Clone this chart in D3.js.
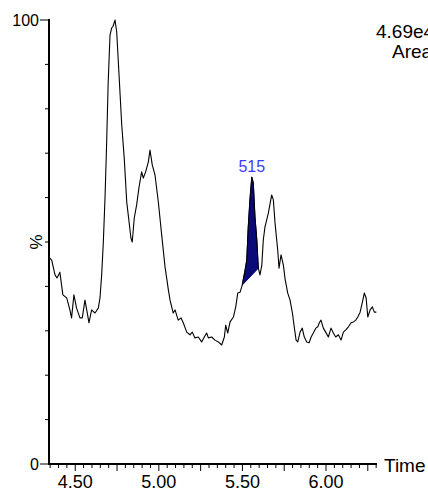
<!DOCTYPE html>
<html>
<head>
<meta charset="utf-8">
<script src="https://cdn.jsdelivr.net/npm/d3@7"></script>
<style>
    body { margin: 0; background: #fff; }
    svg { display: block; font-family: "Liberation Sans", Arial, sans-serif; }
</style>
</head>
<body>
<svg width="428" height="490"></svg>
<script>
// chromatogram trace (time in min, intensity in %)
var times = [4.346, 4.359, 4.379, 4.391, 4.408, 4.426, 4.449, 4.468, 4.478, 4.492,
    4.508, 4.528, 4.542, 4.558, 4.574, 4.582, 4.598, 4.618, 4.638, 4.648,
    4.658, 4.668, 4.678, 4.688, 4.697, 4.708, 4.718, 4.726, 4.738, 4.748,
    4.762, 4.778, 4.793, 4.808, 4.817, 4.833, 4.841, 4.853, 4.867, 4.881,
    4.897, 4.907, 4.921, 4.937, 4.947, 4.961, 4.977, 4.997, 5.017, 5.037,
    5.057, 5.067, 5.086, 5.097, 5.116, 5.133, 5.146, 5.167, 5.186, 5.200,
    5.216, 5.236, 5.256, 5.272, 5.286, 5.296, 5.316, 5.336, 5.356, 5.376,
    5.392, 5.400, 5.412, 5.426, 5.446, 5.460, 5.472, 5.486, 5.499, 5.516,
    5.526, 5.535, 5.545, 5.556, 5.565, 5.575, 5.586, 5.595, 5.605, 5.616,
    5.625, 5.635, 5.655, 5.675, 5.685, 5.695, 5.711, 5.719, 5.731, 5.745,
    5.755, 5.771, 5.785, 5.799, 5.811, 5.821, 5.831, 5.845, 5.858, 5.870,
    5.885, 5.899, 5.911, 5.924, 5.939, 5.951, 5.960, 5.970, 5.984, 5.998,
    6.014, 6.030, 6.044, 6.058, 6.074, 6.090, 6.104, 6.118, 6.134, 6.150,
    6.164, 6.178, 6.190, 6.204, 6.218, 6.229, 6.240, 6.250, 6.264, 6.277,
    6.289, 6.301];
var intensity = [46.4, 45.9, 42.6, 41.9, 43.2, 38.1, 37.4, 34.7, 32.9, 38.1,
    35.1, 32.9, 32.9, 36.9, 33.6, 31.8, 34.7, 34.0, 35.1, 37.4,
    42.6, 50.0, 59.9, 72.5, 86.0, 96.6, 98.2, 98.6, 100.0, 97.3,
    87.6, 76.4, 68.9, 59.0, 56.1, 50.9, 50.0, 55.4, 58.3, 62.2,
    65.8, 64.4, 65.8, 68.0, 70.7, 67.3, 65.1, 59.0, 51.6, 44.4,
    39.2, 36.9, 34.0, 34.7, 32.4, 32.9, 31.8, 29.7, 29.1, 29.7,
    28.4, 28.6, 27.5, 28.6, 29.5, 28.4, 28.6, 27.9, 27.5, 26.8,
    28.6, 31.3, 29.5, 32.0, 33.1, 35.4, 38.5, 38.7, 40.3, 43.7,
    45.9, 53.4, 59.5, 64.6, 63.3, 55.6, 50.5, 44.1, 42.6, 44.8,
    50.5, 53.4, 56.5, 60.6, 59.5, 54.3, 48.2, 44.1, 47.1, 44.8,
    41.7, 38.5, 36.9, 34.0, 30.6, 27.9, 27.5, 29.7, 30.6, 28.6,
    27.5, 27.3, 28.6, 29.5, 30.6, 30.9, 31.8, 32.4, 30.6, 29.7,
    28.6, 30.6, 29.5, 28.6, 29.1, 27.9, 29.7, 30.2, 30.9, 31.8,
    32.0, 32.4, 33.1, 34.2, 36.5, 38.5, 37.4, 33.1, 34.7, 35.4,
    34.2, 34.2];

// integrated peak
var peakStart = 5.499, peakEnd = 5.595, peakApex = 5.556, peakLabel = "515";

var xTickLabels = ["4.50", "5.00", "5.50", "6.00"];
var yTickLabels = ["0", "100"];
var headerLines = ["4.69e4", "Area"];

var svg = d3.select("svg");

var x = d3.scaleLinear().domain([4.343, 6.305]).range([49, 377]);
var y = d3.scaleLinear().domain([0, 100]).range([464, 20]);

var data = times.map(function(t, i) { return { t: t, v: intensity[i] }; });

var line = d3.line()
    .x(function(d) { return x(d.t); })
    .y(function(d) { return y(d.v); });

// shaded peak, closed by a straight baseline between its ends
var peak = data.filter(function(d) { return d.t >= peakStart && d.t <= peakEnd; });
svg.append("path")
    .attr("d", line(peak) + "Z")
    .attr("fill", "#0a0a78")
    .attr("stroke", "#0a0a78")
    .attr("stroke-width", 1);

svg.append("path")
    .attr("d", line(data))
    .attr("fill", "none")
    .attr("stroke", "#000")
    .attr("stroke-width", 1.1)
    .attr("stroke-linejoin", "round");

var apex = data.filter(function(d) { return d.t === peakApex; })[0];
svg.append("text")
    .attr("x", x(apex.t))
    .attr("y", y(apex.v) - 5)
    .attr("text-anchor", "middle")
    .attr("font-size", 16)
    .attr("fill", "#3b3bff")
    .text(peakLabel);

// x axis: minor ticks every 0.05, longer every 0.25, labels every 0.5
var xAxis = svg.append("g");
xAxis.append("line")
    .attr("x1", 48).attr("x2", 377)
    .attr("y1", 464).attr("y2", 464)
    .attr("stroke", "#000").attr("stroke-width", 2);
d3.range(87, 127).map(function(i) { return i * 0.05; }).forEach(function(t) {
    var major = Math.abs(t / 0.25 - Math.round(t / 0.25)) < 1e-6;
    xAxis.append("line")
        .attr("x1", x(t)).attr("x2", x(t))
        .attr("y1", 464).attr("y2", major ? 471 : 468)
        .attr("stroke", "#000").attr("stroke-width", 1);
});
xTickLabels.forEach(function(s) {
    xAxis.append("text")
        .attr("x", x(+s))
        .attr("y", 488)
        .attr("text-anchor", "middle")
        .attr("font-size", 18)
        .text(s);
});
xAxis.append("text")
    .attr("x", 384)
    .attr("y", 472)
    .attr("font-size", 19)
    .text("Time");

// y axis: minor ticks every 10, labels at 0 and 100
var yAxis = svg.append("g");
yAxis.append("line")
    .attr("x1", 49).attr("x2", 49)
    .attr("y1", 19).attr("y2", 465)
    .attr("stroke", "#000").attr("stroke-width", 2);
d3.range(0, 101, 10).forEach(function(v) {
    var labelled = v === 0 || v === 100;
    yAxis.append("line")
        .attr("x1", labelled ? 40 : 45).attr("x2", 49)
        .attr("y1", y(v)).attr("y2", y(v))
        .attr("stroke", "#000").attr("stroke-width", 1);
});
yTickLabels.forEach(function(s) {
    yAxis.append("text")
        .attr("x", 39)
        .attr("y", y(+s) + 6)
        .attr("text-anchor", "end")
        .attr("font-size", 16)
        .text(s);
});
yAxis.append("text")
    .attr("transform", "translate(42," + y(50) + ") rotate(-90)")
    .attr("text-anchor", "middle")
    .attr("font-size", 17)
    .text("%");

// header, clipped by the right edge as in the original
svg.append("text")
    .attr("x", 376)
    .attr("y", 38)
    .attr("font-size", 19)
    .text(headerLines[0]);
svg.append("text")
    .attr("x", 392)
    .attr("y", 58)
    .attr("font-size", 19)
    .text(headerLines[1]);
</script>
</body>
</html>
